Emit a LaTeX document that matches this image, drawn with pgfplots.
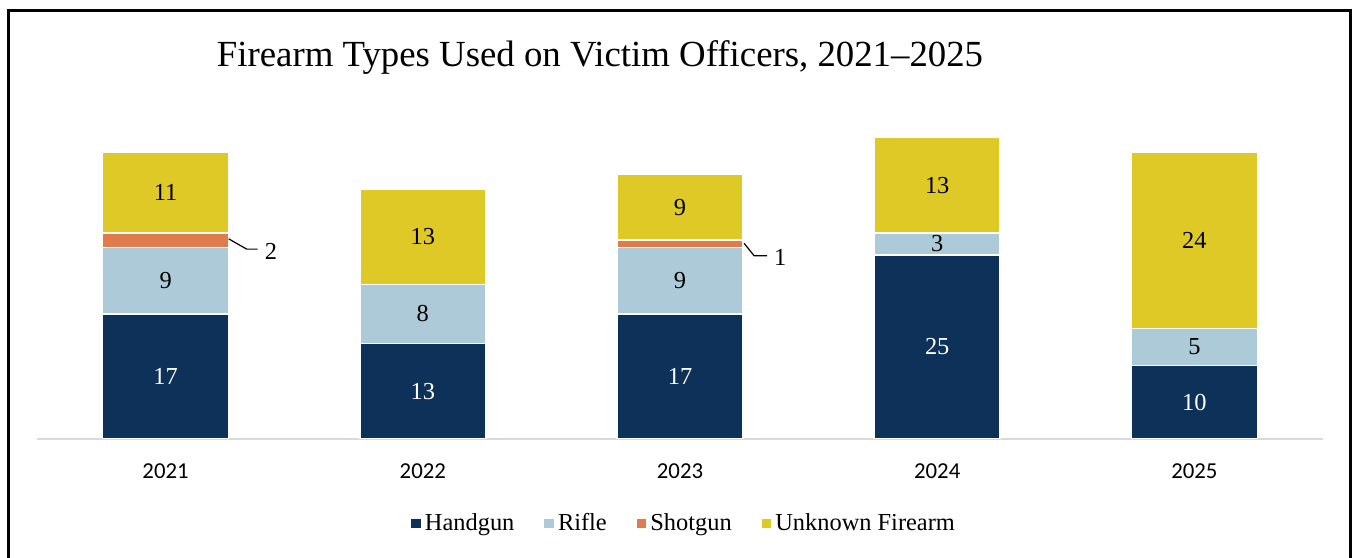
\documentclass[border=0pt]{standalone}
\usepackage{fontspec}
\setmainfont{Liberation Serif}
\newfontfamily\tickfont{Carlito}
\usepackage{pgfplots}
\pgfplotsset{compat=1.18}

\definecolor{hgColor}{RGB}{14,49,89}
\definecolor{rfColor}{RGB}{173,202,216}
\definecolor{sgColor}{RGB}{224,123,75}
\definecolor{ukColor}{RGB}{223,201,38}

% 1 unit = 1 px of the 1353x557 reference (y up), 0.5pt each
\pgfplotsset{frame geom/.style={at={(18.5pt,59pt)},anchor=south west,scale only axis,
  width=643pt,height=169.28pt,xmin=-0.5,xmax=4.5,ymin=0,ymax=46}}

\begin{document}
\begin{tikzpicture}[x=0.5pt,y=0.5pt]
\useasboundingbox (0,0) rectangle (1353,557);
\draw[line width=1.5pt] (8.5,-3) -- (8.5,546.5) -- (1350,546.5) -- (1350,-3);
\node[font=\fontsize{18.4}{22}\selectfont,anchor=base] at (600,490) {Firearm Types Used on Victim Officers, 2021--2025};

\begin{axis}[frame geom,
  ybar stacked,bar width=63pt,
  axis y line=none,axis x line*=bottom,
  x axis line style={-,draw=black!15,line width=1pt},
  xtick={0,1,2,3,4},xticklabels={2021,2022,2023,2024,2025},
  ytick=\empty,major tick length=0pt,
  xticklabel style={font=\tickfont\fontsize{11.4}{13}\selectfont,yshift=-9pt},
  every axis plot/.append style={draw=white,line width=0.8pt},
  legend style={at={(0.504,-0.25)},anchor=center,draw=none,fill=none,
    legend columns=4,font=\fontsize{12.2}{14}\selectfont,inner sep=0pt,
    /tikz/every even column/.append style={column sep=13pt}},
  legend image code/.code={\fill[#1,draw=none] (0pt,-2.4pt) rectangle (4.8pt,2.4pt);},
]
\addplot[fill=hgColor] coordinates {(0,17) (1,13) (2,17) (3,25) (4,10)};
\addplot[fill=rfColor] coordinates {(0,9) (1,8) (2,9) (3,3) (4,5)};
\addplot[fill=sgColor] coordinates {(0,2) (1,0) (2,1) (3,0) (4,0)};
\addplot[fill=ukColor] coordinates {(0,11) (1,13) (2,9) (3,13) (4,24)};
\legend{Handgun,Rifle,Shotgun,Unknown Firearm}
\end{axis}

% value labels, centred in each segment
\begin{axis}[frame geom,hide axis,
  nodes near coords,point meta=explicit symbolic,
  nodes near coords align={center},
  every node near coord/.append style={anchor=center,font=\fontsize{12.2}{14}\selectfont},
]
\addplot[draw=none,mark=none,every node near coord/.append style={text=white}]
  coordinates {(0,8.5)[17] (1,6.5)[13] (2,8.5)[17] (3,12.5)[25] (4,5)[10]};
\addplot[draw=none,mark=none]
  coordinates {(0,21.5)[9] (1,17)[8] (2,21.5)[9] (3,26.5)[3] (4,12.5)[5]};
\addplot[draw=none,mark=none]
  coordinates {(0,33.5)[11] (1,27.5)[13] (2,31.5)[9] (3,34.5)[13] (4,27)[24]};
\addplot[draw=none,mark=none]
  coordinates {(0.41,25.5)[2] (2.39,24.7)[1]};
% leader lines to the shotgun values
\addplot[black,line width=0.6pt,mark=none] coordinates {(0.245,27.2) (0.315,25.8) (0.358,25.8)};
\addplot[black,line width=0.6pt,mark=none] coordinates {(2.249,26.6) (2.288,24.9) (2.339,24.9)};
\end{axis}
\end{tikzpicture}
\end{document}
